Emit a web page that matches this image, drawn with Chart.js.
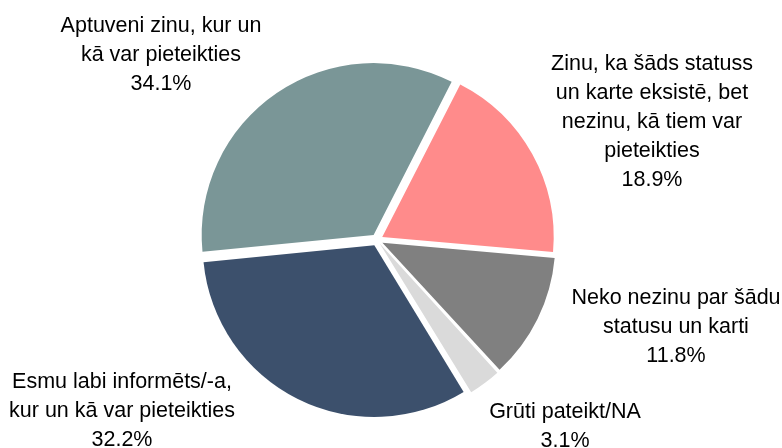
<!DOCTYPE html>
<html>
<head>
<meta charset="utf-8">
<script src="https://cdn.jsdelivr.net/npm/chart.js@4/dist/chart.umd.min.js"></script>
<style>
  html, body { margin: 0; padding: 0; background: #fff; }
  #wrap { width: 782px; height: 448px; }
</style>
</head>
<body>
<div id="wrap"><canvas id="pie" width="782" height="448"></canvas></div>
<script>
'use strict';

// category names, already broken into the lines shown next to each slice
var CATEGORY_LINES = [
  ['Esmu labi informēts/-a,', 'kur un kā var pieteikties'],
  ['Aptuveni zinu, kur un', 'kā var pieteikties'],
  ['Zinu, ka šāds statuss', 'un karte eksistē, bet', 'nezinu, kā tiem var', 'pieteikties'],
  ['Neko nezinu par šādu', 'statusu un karti'],
  ['Grūti pateikt/NA']
];
var SHARES = [32.2, 34.1, 18.9, 11.8, 3.1];
var COLORS = ['#3C506C', '#7A9697', '#FF8B8B', '#808080', '#DADADA'];

// where each label block sits, relative to the pie centre (px)
var LABEL_SHIFT = [[-255, 169], [-216, -187], [275, -120], [299, 85], [188, 185]];
var FONT_SIZE = 21.5;
var LINE_H = 29;

var pieLabels = {
  id: 'pieLabels',
  afterDatasetsDraw: function(chart) {
    var ctx = chart.ctx;
    var meta = chart.getDatasetMeta(0);
    ctx.save();
    ctx.font = FONT_SIZE + 'px "Liberation Sans", Arial, sans-serif';
    ctx.fillStyle = '#000';
    ctx.textAlign = 'center';
    ctx.textBaseline = 'alphabetic';
    meta.data.forEach(function(arc, i) {
      var lines = CATEGORY_LINES[i].concat([SHARES[i].toFixed(1) + '%']);
      var cx = arc.x + LABEL_SHIFT[i][0];
      var cy = arc.y + LABEL_SHIFT[i][1];
      var top = cy - (lines.length - 1) * LINE_H / 2;
      for (var k = 0; k < lines.length; k++) {
        // shift from cap-centre to baseline
        ctx.fillText(lines[k], cx, top + k * LINE_H + FONT_SIZE * 0.36);
      }
    });
    ctx.restore();
  }
};

var ctx = document.getElementById('pie').getContext('2d');
var myChart = new Chart(ctx, {
  type: 'pie',
  data: {
    labels: CATEGORY_LINES.map(function(l) { return l.join(' '); }),
    datasets: [{
      data: SHARES,
      backgroundColor: COLORS,
      borderWidth: 0,
      // the small slice grows outward with chart.js offsets, so give it less
      offset: [24, 24, 24, 24, 18],
      radius: 171
    }]
  },
  options: {
    responsive: false,
    devicePixelRatio: 1,
    animation: false,
    rotation: 148.6,
    layout: { padding: { left: 0, right: 28, top: 32, bottom: 0 } },
    plugins: {
      legend: { display: false },
      tooltip: { enabled: false }
    }
  },
  plugins: [pieLabels]
});
</script>
</body>
</html>
